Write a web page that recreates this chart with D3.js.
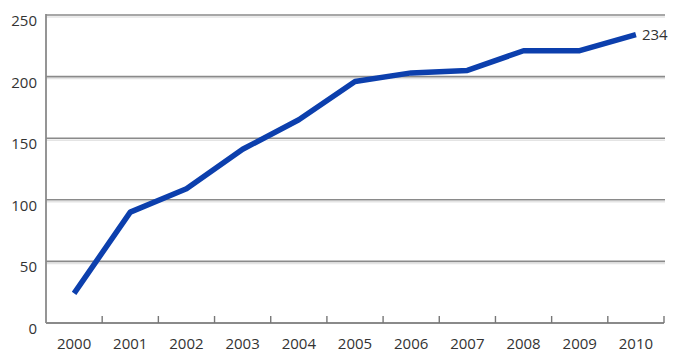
<!DOCTYPE html>
<html><head><meta charset="utf-8">
<script src="https://cdn.jsdelivr.net/npm/d3@7"></script>
<style>body{margin:0;background:#fff;} text{font-family:"Open Sans",sans-serif;}</style>
</head><body>
<svg id="c" width="681" height="352"></svg>
<script>
const years = ["2000","2001","2002","2003","2004","2005","2006","2007","2008","2009","2010"];
const values = [24, 90, 109, 141, 165, 196, 203, 205, 221, 221, 234];
const yTicks = [0, 50, 100, 150, 200, 250];

const svg = d3.select("#c");
const mLeft = 46, mRight = 664, mTop = 15, mBottom = 323;
const x = d3.scaleBand().domain(years).range([mLeft, mRight]);
const y = d3.scaleLinear().domain([0, 250]).range([mBottom, mTop]);

// gridlines with subtle shadow
const g = svg.append("g");
g.selectAll("line.sh").data(yTicks.filter(d => d > 0)).join("line")
  .attr("x1", mLeft).attr("x2", mRight + 1)
  .attr("y1", d => y(d) + 2).attr("y2", d => y(d) + 2)
  .attr("stroke", "#e4e4e4").attr("stroke-width", 1.5);
g.selectAll("line.gr").data(yTicks.filter(d => d > 0)).join("line")
  .attr("x1", mLeft).attr("x2", mRight + 1)
  .attr("y1", d => y(d)).attr("y2", d => y(d))
  .attr("stroke", "#8a8a8a").attr("stroke-width", 1.6);

// y axis line
svg.append("line").attr("x1", mLeft).attr("x2", mLeft)
  .attr("y1", y(250) - 1).attr("y2", mBottom)
  .attr("stroke", "#8a8a8a").attr("stroke-width", 1.8);
// x axis line
svg.append("line").attr("x1", mLeft).attr("x2", mRight)
  .attr("y1", mBottom).attr("y2", mBottom)
  .attr("stroke", "#8a8a8a").attr("stroke-width", 1.8);
// x ticks at band boundaries
svg.selectAll("line.tk").data(years).join("line")
  .attr("x1", d => x(d) + x.bandwidth()).attr("x2", d => x(d) + x.bandwidth())
  .attr("y1", mBottom).attr("y2", mBottom - 7)
  .attr("stroke", "#777").attr("stroke-width", 1.4);

// y labels
svg.selectAll("text.yl").data(yTicks).join("text")
  .attr("x", 37).attr("y", d => y(d) + 11)
  .attr("text-anchor", "end").attr("font-size", 15).attr("fill", "#333")
  .text(d => d);

// x labels
svg.selectAll("text.xl").data(years).join("text")
  .attr("x", d => x(d) + x.bandwidth() / 2).attr("y", 349)
  .attr("text-anchor", "middle").attr("font-size", 15).attr("fill", "#333")
  .text(d => d);

// line
const line = d3.line().x((d, i) => x(years[i]) + x.bandwidth() / 2).y(d => y(d));
svg.append("path").datum(values).attr("d", line)
  .attr("fill", "none").attr("stroke", "#0c3fad").attr("stroke-width", 5.5)
  .attr("stroke-linejoin", "round");

// end label
svg.append("text")
  .attr("x", x(years[10]) + x.bandwidth() / 2 + 6).attr("y", y(values[10]) + 5)
  .attr("font-size", 15).attr("fill", "#333").text(values[10]);
</script>
</body></html>
